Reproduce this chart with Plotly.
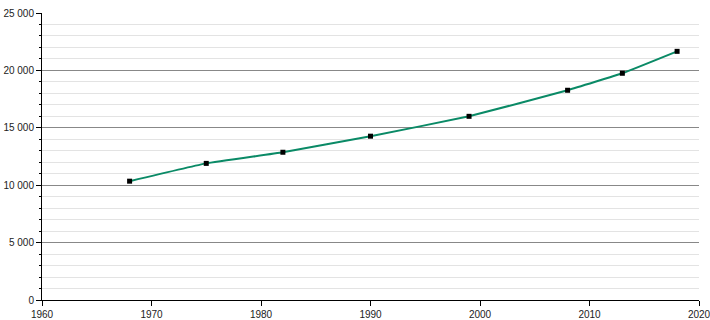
import plotly.graph_objects as go

years = [1968, 1975, 1982, 1990, 1999, 2008, 2013, 2018]
population = [10350, 11900, 12870, 14270, 16000, 18270, 19750, 21660]

y_ticks = [0, 5000, 10000, 15000, 20000, 25000]
y_tick_labels = ["0", "5 000", "10 000", "15 000", "20 000", "25 000"]
x_ticks = [1960, 1970, 1980, 1990, 2000, 2010, 2020]

fig = go.Figure()
fig.add_trace(go.Scatter(
    x=years, y=population, mode="lines+markers",
    line=dict(color="#0a8a66", width=2, shape="spline", smoothing=0.3),
    marker=dict(symbol="square", size=5, color="black"),
    hoverinfo="x+y",
))
fig.update_layout(
    width=710, height=320,
    margin=dict(l=42, r=11, t=13, b=20),
    paper_bgcolor="white", plot_bgcolor="white",
    showlegend=False,
    font=dict(family="Liberation Sans", size=10, color="#222"),
)
fig.update_xaxes(
    range=[1960, 2020], tickvals=x_ticks, ticktext=[str(v) for v in x_ticks],
    showgrid=False, zeroline=False, automargin=False, ticklabeloverflow="allow",
    showline=True, linecolor="black", linewidth=1,
    ticks="outside", ticklen=5, tickcolor="black",
)
fig.update_yaxes(
    range=[0, 25000], tickvals=y_ticks, ticktext=y_tick_labels,
    showgrid=True, gridcolor="#888", gridwidth=1, zeroline=False,
    automargin=False, ticklabeloverflow="allow",
    showline=True, linecolor="black", linewidth=1,
    ticks="outside", ticklen=5, tickcolor="black",
    minor=dict(dtick=1000, showgrid=True, gridcolor="#e3e3e3", gridwidth=1,
               ticks="outside", ticklen=2, tickcolor="black"),
)
fig.write_html("out.html")
